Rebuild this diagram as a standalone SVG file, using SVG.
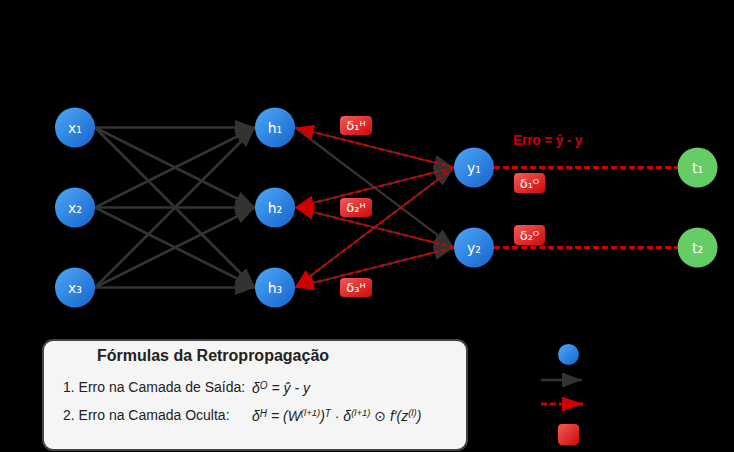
<svg xmlns="http://www.w3.org/2000/svg" width="734" height="452" viewBox="0 0 734 452">
<style>
.lbl{font-family:"DejaVu Sans",sans-serif;font-size:14px;fill:#ffffff;text-anchor:middle}
.bdg{font-family:"DejaVu Sans",sans-serif;font-size:13px;fill:#ffffff;text-anchor:middle}
.fw{stroke:#333333;stroke-width:2.7;fill:none}
.fw2{stroke:#333333;stroke-width:2.2;fill:none}
.bk{stroke:#cc0000;stroke-width:2.2;stroke-dasharray:5,3;fill:none}
.err{stroke:#cc0000;stroke-width:3;stroke-dasharray:6,3;fill:none}
.ftxt{font-family:"Liberation Sans",Arial,sans-serif;font-size:14px;fill:#222222}
.fml{font-family:"Liberation Sans",Arial,"DejaVu Sans",sans-serif;font-size:14px;font-style:italic;fill:#222222}
</style>
<defs>
<linearGradient id="gBlue" x1="0" y1="0" x2="1" y2="1">
<stop offset="0" stop-color="#4fa8f8"/>
<stop offset="1" stop-color="#1463cc"/>
</linearGradient>
<linearGradient id="gRed" x1="0" y1="0" x2="1" y2="1">
<stop offset="0" stop-color="#f45a5a"/>
<stop offset="1" stop-color="#cc0a0a"/>
</linearGradient>
<marker id="aBlack" markerUnits="userSpaceOnUse" markerWidth="20" markerHeight="15" viewBox="0 0 20 15" refX="20" refY="7.5" orient="auto">
<path d="M0,0 L20,7.5 L0,15 z" fill="#333333"/>
</marker>
<marker id="aRed" markerUnits="userSpaceOnUse" markerWidth="19" markerHeight="15" viewBox="0 0 19 15" refX="19" refY="7.5" orient="auto">
<path d="M0,0 L19,7.5 L0,15 z" fill="#cc0000"/>
</marker>
<marker id="aRedL" markerUnits="userSpaceOnUse" markerWidth="21" markerHeight="15" viewBox="0 0 21 15" refX="21" refY="7.5" orient="auto">
<path d="M0,0 L21,7.5 L0,15 z" fill="#cc0000"/>
</marker>
</defs>
<rect x="0" y="0" width="734" height="452" fill="#000000"/>

<g id="connectors">
<g id="forward-input">
<line class="fw" x1="95" y1="127.5" x2="255" y2="127.5" marker-end="url(#aBlack)"/>
<line class="fw" x1="95" y1="127.5" x2="255" y2="207.5" marker-end="url(#aBlack)"/>
<line class="fw" x1="95" y1="127.5" x2="255" y2="287.5" marker-end="url(#aBlack)"/>
<line class="fw" x1="95" y1="207.5" x2="255" y2="127.5" marker-end="url(#aBlack)"/>
<line class="fw" x1="95" y1="207.5" x2="255" y2="207.5" marker-end="url(#aBlack)"/>
<line class="fw" x1="95" y1="207.5" x2="255" y2="287.5" marker-end="url(#aBlack)"/>
<line class="fw" x1="95" y1="287.5" x2="255" y2="127.5" marker-end="url(#aBlack)"/>
<line class="fw" x1="95" y1="287.5" x2="255" y2="207.5" marker-end="url(#aBlack)"/>
<line class="fw" x1="95" y1="287.5" x2="255" y2="287.5" marker-end="url(#aBlack)"/>
</g>
<g id="forward-hidden">
<line class="fw2" x1="295" y1="127.5" x2="454" y2="167.5" marker-end="url(#aBlack)"/>
<line class="fw2" x1="295" y1="127.5" x2="454" y2="247.5" marker-end="url(#aBlack)"/>
<line class="fw2" x1="295" y1="207.5" x2="454" y2="167.5" marker-end="url(#aBlack)"/>
<line class="fw2" x1="295" y1="207.5" x2="454" y2="247.5" marker-end="url(#aBlack)"/>
<line class="fw2" x1="295" y1="287.5" x2="454" y2="167.5" marker-end="url(#aBlack)"/>
<line class="fw2" x1="295" y1="287.5" x2="454" y2="247.5" marker-end="url(#aBlack)"/>
</g>
<g id="backward">
<line class="bk" x1="454" y1="167.5" x2="295" y2="127.5" marker-end="url(#aRed)"/>
<line class="bk" x1="454" y1="167.5" x2="295" y2="207.5" marker-end="url(#aRed)"/>
<line class="bk" x1="454" y1="167.5" x2="295" y2="287.5" marker-end="url(#aRed)"/>
<line class="bk" x1="454" y1="247.5" x2="295" y2="207.5" marker-end="url(#aRed)"/>
<line class="bk" x1="454" y1="247.5" x2="295" y2="287.5" marker-end="url(#aRed)"/>
</g>
<g id="error">
<line class="err" x1="494" y1="167.5" x2="677" y2="167.5"/>
<line class="err" x1="494" y1="247.5" x2="677" y2="247.5"/>
</g>
</g>

<g id="x1"><circle cx="75" cy="127.5" r="20" fill="url(#gBlue)"/><text class="lbl" x="75" y="132.5">x₁</text></g>
<g id="x2"><circle cx="75" cy="207.5" r="20" fill="url(#gBlue)"/><text class="lbl" x="75" y="212.5">x₂</text></g>
<g id="x3"><circle cx="75" cy="287.5" r="20" fill="url(#gBlue)"/><text class="lbl" x="75" y="292.5">x₃</text></g>
<g id="h1"><circle cx="275" cy="127.5" r="20" fill="url(#gBlue)"/><text class="lbl" x="275" y="132.5">h₁</text></g>
<g id="h2"><circle cx="275" cy="207.5" r="20" fill="url(#gBlue)"/><text class="lbl" x="275" y="212.5">h₂</text></g>
<g id="h3"><circle cx="275" cy="287.5" r="20" fill="url(#gBlue)"/><text class="lbl" x="275" y="292.5">h₃</text></g>
<g id="y1"><circle cx="474" cy="167.5" r="20" fill="url(#gBlue)"/><text class="lbl" x="474" y="172.5">y₁</text></g>
<g id="y2"><circle cx="474" cy="247.5" r="20" fill="url(#gBlue)"/><text class="lbl" x="474" y="252.5">y₂</text></g>
<g id="t1"><circle cx="697.5" cy="167.5" r="20" fill="#66cc66"/><text class="lbl" x="697.5" y="172.5">t₁</text></g>
<g id="t2"><circle cx="697.5" cy="247.5" r="20" fill="#66cc66"/><text class="lbl" x="697.5" y="252.5">t₂</text></g>

<g id="delta-h1"><rect x="340" y="116" width="32" height="19" rx="4" fill="url(#gRed)"/><text class="bdg" x="356" y="130">δ₁ᴴ</text></g>
<g id="delta-h2"><rect x="340" y="198" width="32" height="19" rx="4" fill="url(#gRed)"/><text class="bdg" x="356" y="212">δ₂ᴴ</text></g>
<g id="delta-h3"><rect x="340" y="278" width="32" height="19" rx="4" fill="url(#gRed)"/><text class="bdg" x="356" y="292">δ₃ᴴ</text></g>
<g id="delta-o1"><rect x="514" y="173" width="31" height="20" rx="4" fill="url(#gRed)"/><text class="bdg" x="529.5" y="187.5">δ₁ᴼ</text></g>
<g id="delta-o2"><rect x="514" y="225" width="31" height="20" rx="4" fill="url(#gRed)"/><text class="bdg" x="529.5" y="239.5">δ₂ᴼ</text></g>

<g id="erro-label"><text x="513" y="145" font-family="'Liberation Sans',Arial,sans-serif" font-size="14" font-weight="bold" letter-spacing="-0.3" fill="#cc0000">Erro = ŷ - y</text></g>

<g id="formulas">
<rect x="43" y="340" width="424" height="110" rx="10" fill="#f5f5f5" stroke="#444444" stroke-width="2"/>
<text x="97" y="361" font-family="'Liberation Sans',Arial,sans-serif" font-size="16" font-weight="bold" fill="#222222">Fórmulas da Retropropagação</text>
<text class="ftxt" x="63" y="392">1. Erro na Camada de Saída:</text>
<text class="fml" x="252" y="393">δ<tspan font-size="10" dy="-4">O</tspan><tspan dy="4"> = ŷ - y</tspan></text>
<text class="ftxt" x="63" y="420">2. Erro na Camada Oculta:</text>
<text class="fml" x="252" y="421">δ<tspan font-size="10" dy="-4">H</tspan><tspan dy="4"> = (W</tspan><tspan font-size="9.5" dy="-5">(l+1)</tspan><tspan dy="5">)</tspan><tspan font-size="10" dy="-4">T</tspan><tspan dy="4"> · δ</tspan><tspan font-size="9.5" dy="-5">(l+1)</tspan><tspan dy="5"> ⊙ f'(z</tspan><tspan font-size="9.5" dy="-5">(l)</tspan><tspan dy="5">)</tspan></text>
</g>

<g id="legend">
<circle cx="568.5" cy="354.5" r="10.5" fill="url(#gBlue)"/>
<line x1="541" y1="380" x2="582" y2="380" stroke="#333333" stroke-width="2.5" marker-end="url(#aBlack)"/>
<line x1="541" y1="404" x2="583" y2="404" stroke="#cc0000" stroke-width="3" stroke-dasharray="6,3" marker-end="url(#aRedL)"/>
<rect x="558" y="424" width="21" height="21" rx="4" fill="url(#gRed)"/>
</g>
</svg>
